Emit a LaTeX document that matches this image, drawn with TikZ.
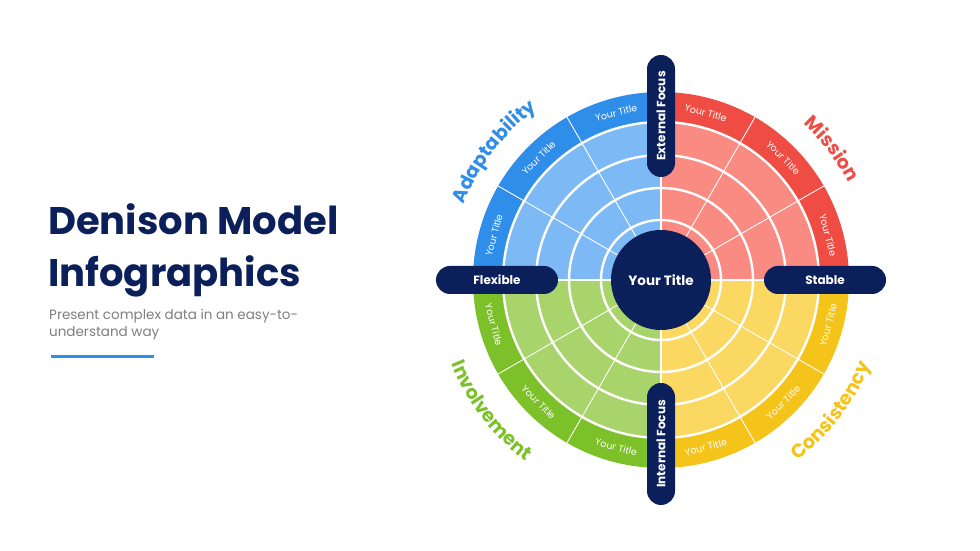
\documentclass[tikz,border=0pt]{standalone}
\usepackage{fontspec}
\setmainfont{Poppins}
\usepackage{tikz}
\usetikzlibrary{positioning,decorations.text}
\definecolor{navy}{HTML}{0B1F5B}
\definecolor{blueD}{HTML}{2F8EEA}
\definecolor{blueL}{HTML}{7DBAF5}
\definecolor{redD}{HTML}{EF4D44}
\definecolor{redL}{HTML}{F98B83}
\definecolor{greenD}{HTML}{7DC12A}
\definecolor{greenL}{HTML}{A9D46B}
\definecolor{yellowD}{HTML}{F5C41B}
\definecolor{yellowL}{HTML}{FBD862}
\definecolor{subgray}{HTML}{7F7F7F}
\tikzset{ring lines/.style={white,line width=2.4pt}}
\tikzset{spoke lines/.style={white,line width=0.9pt}}
\tikzset{axis lines/.style={white,line width=2pt}}
\tikzset{pill/.style={fill=navy,text=white,font=\bfseries\fontsize{12}{14}\selectfont,
  rounded corners=14pt,minimum width=122pt,minimum height=28pt,inner sep=0pt}}
\tikzset{cell label/.style={text=white,font=\fontsize{9.5}{11}\selectfont,inner sep=0pt}}
\tikzset{title text/.style={anchor=base west,inner sep=0pt,text=navy,font=\bfseries\fontsize{38.5}{46}\selectfont}}
\tikzset{sub text/.style={anchor=base west,inner sep=0pt,text=subgray,font=\fontsize{13.5}{16}\selectfont}}

\begin{document}
\begin{tikzpicture}[x=1pt,y=1pt]
  \useasboundingbox[fill=white] (0,0) rectangle (980,551);
  \coordinate (c) at (661,271);
  % quadrants
  \foreach \a/\dark/\light in {0/redD/redL,90/blueD/blueL,180/greenD/greenL,270/yellowD/yellowL}{
    \fill[\dark] (c) -- ++(\a:188) arc[start angle=\a,delta angle=90,radius=188] -- cycle;
    \fill[\light] (c) -- ++(\a:158) arc[start angle=\a,delta angle=90,radius=158] -- cycle;
  }
  \foreach \r in {60,92,125,158}
    \draw[ring lines] (c) circle[radius=\r];
  \foreach \a in {30,60,120,150,210,240,300,330}
    \draw[spoke lines] (c) ++(\a:50) -- ++(\a:138);
  \foreach \a in {0,90,180,270}
    \draw[axis lines] (c) -- ++(\a:188);
  % cell titles
  \foreach \a in {15,45,...,345}{
    \pgfmathsetmacro{\rot}{\a<180 ? \a-90 : \a+90}
    \node[cell label,rotate=\rot] (cell-\a) at ([shift={(\a:173)}]c) {Your Title};
  }
  % hub and pills
  \node[circle,fill=navy,minimum size=100pt,inner sep=0pt,text=white,
    font=\bfseries\fontsize{13.5}{16}\selectfont] (hub) at (c) {Your Title};
  \node[pill] (flexible) at ([xshift=-164pt]c) {Flexible};
  \node[pill] (stable) at ([xshift=164pt]c) {Stable};
  \node[pill,rotate=90] (external) at ([yshift=164pt]c) {External Focus};
  \node[pill,rotate=90] (internal) at ([yshift=-164pt]c) {Internal Focus};
  % quadrant names
  \path[decorate,decoration={text along path,text align=center,
    text={|\color{blueD}\bfseries\fontsize{19}{23}\selectfont|Adaptability}}]
    (c) ++(172.5:211) arc[start angle=172.5,end angle=112.5,radius=211];
  \path[decorate,decoration={text along path,text align=center,
    text={|\color{redD}\bfseries\fontsize{19}{23}\selectfont|Mission}}]
    (c) ++(67.5:211) arc[start angle=67.5,end angle=7.5,radius=211];
  \path[decorate,decoration={text along path,text align=center,
    text={|\color{greenD}\bfseries\fontsize{19}{23}\selectfont|Involvement}}]
    (c) ++(187.5:226) arc[start angle=187.5,end angle=247.5,radius=226];
  \path[decorate,decoration={text along path,text align=center,
    text={|\color{yellowD}\bfseries\fontsize{19}{23}\selectfont|Consistency}}]
    (c) ++(292.5:226) arc[start angle=292.5,end angle=352.5,radius=226];
  % left text
  \node[title text] (title1) at (48,316) {Denison Model};
  \node[title text] (title2) at (48,264) {Infographics};
  \node[sub text] (sub1) at (49,231) {Present complex data in an easy-to-};
  \node[sub text] (sub2) at (49,214) {understand way};
  \coordinate (rule-a) at (51,194);
  \coordinate (rule-b) at (154,194);
  \draw[blueD,line width=3pt] (rule-a) -- (rule-b);
\end{tikzpicture}
\end{document}
